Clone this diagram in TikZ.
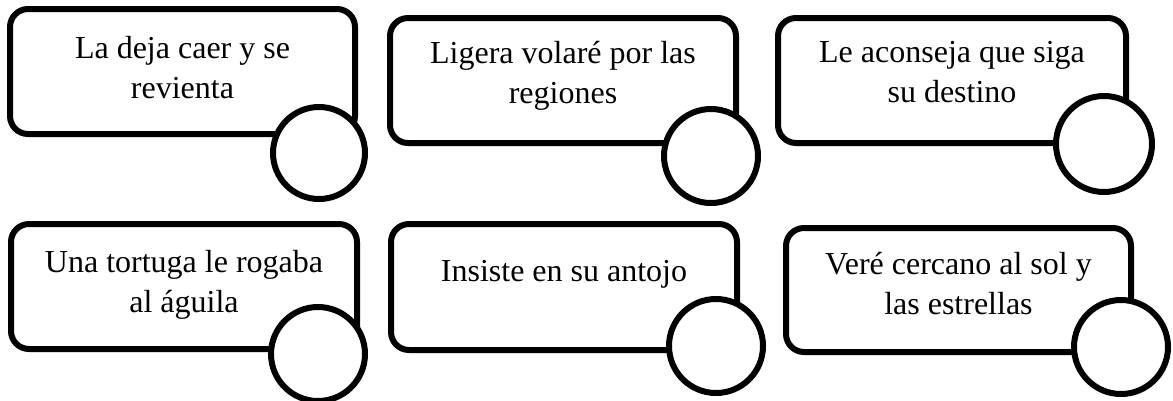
\documentclass[tikz,border=0pt]{standalone}
\usepackage{fontspec}
\setmainfont{Liberation Serif}
\begin{document}
\begin{tikzpicture}[x=1pt,y=-1pt,
  cardbox/.style={draw=black,line width=6pt,rounded corners=18pt,rectangle,fill=white,inner sep=0pt,outer sep=0pt},
  dotcirc/.style={draw=black,line width=6pt,circle,fill=white,inner sep=0pt,outer sep=0pt,minimum size=94pt},
  cardtext/.style={anchor=north,align=center,inner sep=0pt,font=\fontsize{32}{40}\selectfont}]
\useasboundingbox[fill=white] (0,0) rectangle (1173,400);
% boxes
\node[cardbox,minimum width=345pt,minimum height=125pt] (box1) at (182.5,71.5) {};
\node[cardbox,minimum width=346pt,minimum height=125pt] (box2) at (563,80.5) {};
\node[cardbox,minimum width=348pt,minimum height=125pt] (box3) at (952,80.5) {};
\node[cardbox,minimum width=346pt,minimum height=125pt] (box4) at (184,286.5) {};
\node[cardbox,minimum width=346pt,minimum height=126pt] (box5) at (564,287) {};
\node[cardbox,minimum width=345pt,minimum height=124pt] (box6) at (958.5,290) {};
% texts
\node[cardtext] (t1) at (182.5,36) {La deja caer y se\\revienta};
\node[cardtext] (t2) at (563,41) {Ligera volaré por las\\regiones};
\node[cardtext] (t3) at (952,41) {Le aconseja que siga\\su destino};
\node[cardtext] (t4) at (184,250) {Una tortuga le rogaba\\al águila};
\node[cardtext] (t5) at (564,260) {Insiste en su antojo};
\node[cardtext] (t6) at (958.5,252) {Veré cercano al sol y\\las estrellas};
% circles
\node[dotcirc,minimum size=92pt] (c1) at (319,153) {};
\node[dotcirc] (c2) at (711,156) {};
\node[dotcirc,minimum size=96pt] (c3) at (1104,144) {};
\node[dotcirc] (c4) at (318,354) {};
\node[dotcirc] (c5) at (716,346) {};
\node[dotcirc] (c6) at (1121,347) {};
\end{tikzpicture}
\end{document}
